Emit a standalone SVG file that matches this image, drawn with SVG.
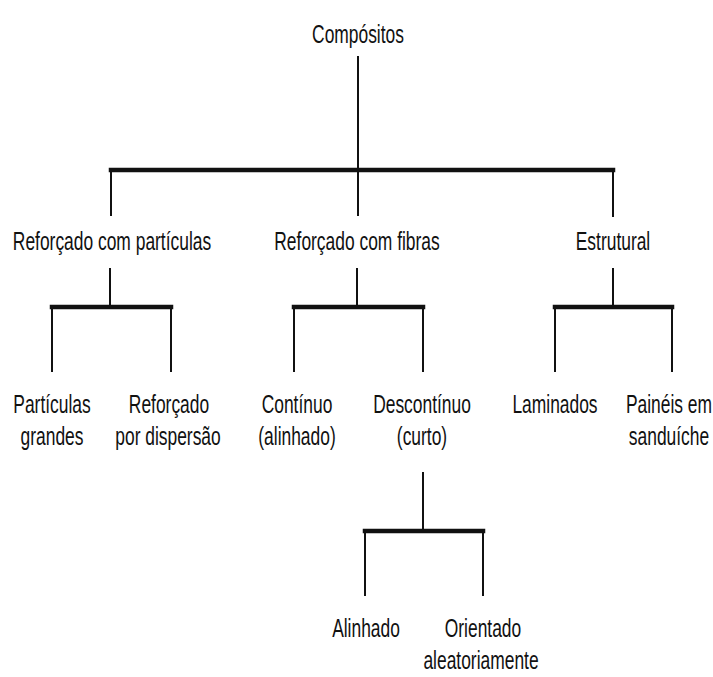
<svg xmlns="http://www.w3.org/2000/svg" width="713" height="677" viewBox="0 0 713 677">
<style>
text{font-family:"Liberation Sans",Arial,sans-serif;font-size:26px;fill:#111;text-anchor:middle}
.v{stroke:#111;stroke-width:2;fill:none}
.h{stroke:#111;stroke-width:4.5;fill:none;stroke-linecap:square}
</style>
<rect width="713" height="677" fill="#fff"/>
<g id="connectors">
<line class="v" x1="358" y1="56" x2="358" y2="216"/>
<line class="h" x1="111" y1="170" x2="613" y2="170"/>
<line class="v" x1="111" y1="170" x2="111" y2="216"/>
<line class="v" x1="613" y1="170" x2="613" y2="217"/>
<line class="v" x1="110" y1="268" x2="110" y2="307"/>
<line class="h" x1="52" y1="307" x2="171" y2="307"/>
<line class="v" x1="52" y1="307" x2="52" y2="372"/>
<line class="v" x1="171" y1="307" x2="171" y2="372"/>
<line class="v" x1="357" y1="268" x2="357" y2="307"/>
<line class="h" x1="294" y1="307" x2="423" y2="307"/>
<line class="v" x1="294" y1="307" x2="294" y2="372"/>
<line class="v" x1="423" y1="307" x2="423" y2="372"/>
<line class="v" x1="613" y1="268" x2="613" y2="307"/>
<line class="h" x1="555" y1="307" x2="672" y2="307"/>
<line class="v" x1="555" y1="307" x2="555" y2="372"/>
<line class="v" x1="672" y1="307" x2="672" y2="372"/>
<line class="v" x1="423" y1="472" x2="423" y2="531"/>
<line class="h" x1="365" y1="531" x2="483" y2="531"/>
<line class="v" x1="365" y1="531" x2="365" y2="596"/>
<line class="v" x1="483" y1="531" x2="483" y2="596"/>
</g>
<g id="n-compositos"><text transform="translate(358 43) scale(.67 1)">Compósitos</text></g>
<g id="n-particulas"><text transform="translate(112 250) scale(.67 1)">Reforçado com partículas</text></g>
<g id="n-fibras"><text transform="translate(357 250) scale(.67 1)">Reforçado com fibras</text></g>
<g id="n-estrutural"><text transform="translate(613 250) scale(.67 1)">Estrutural</text></g>
<g id="n-grandes"><text transform="translate(52 413) scale(.67 1)">Partículas</text><text transform="translate(52 445) scale(.67 1)">grandes</text></g>
<g id="n-dispersao"><text transform="translate(169 413) scale(.67 1)">Reforçado</text><text transform="translate(168 445) scale(.67 1)">por dispersão</text></g>
<g id="n-continuo"><text transform="translate(297 413) scale(.67 1)">Contínuo</text><text transform="translate(297 445) scale(.67 1)">(alinhado)</text></g>
<g id="n-descontinuo"><text transform="translate(422 413) scale(.67 1)">Descontínuo</text><text transform="translate(422 445) scale(.67 1)">(curto)</text></g>
<g id="n-laminados"><text transform="translate(555 413) scale(.67 1)">Laminados</text></g>
<g id="n-paineis"><text transform="translate(669 413) scale(.67 1)">Painéis em</text><text transform="translate(669 445) scale(.67 1)">sanduíche</text></g>
<g id="n-alinhado"><text transform="translate(366 637) scale(.67 1)">Alinhado</text></g>
<g id="n-orientado"><text transform="translate(483 637) scale(.67 1)">Orientado</text><text transform="translate(481 669) scale(.67 1)">aleatoriamente</text></g>
</svg>
